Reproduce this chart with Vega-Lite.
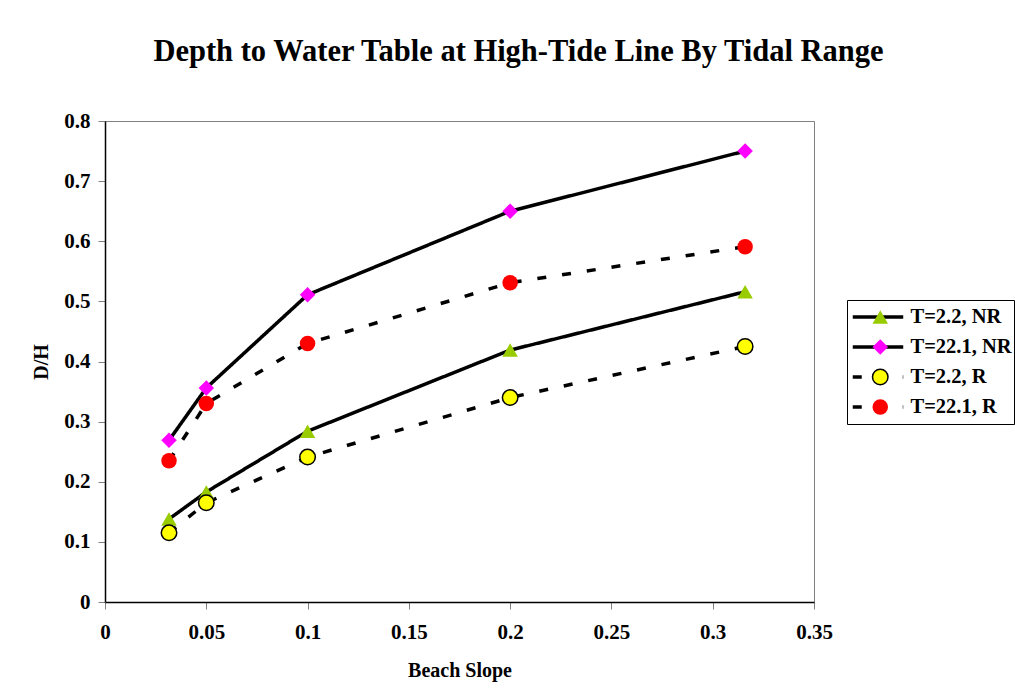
{
  "$schema": "https://vega.github.io/schema/vega-lite/v6.json",
  "autosize": {"type": "none"},
  "padding": {"left": 105, "top": 121, "right": 201, "bottom": 98},
  "width": 709,
  "height": 481,
  "background": "white",
  "title": {
    "text": "Depth to Water Table at High-Tide Line By Tidal Range",
    "font": "Liberation Serif",
    "fontSize": 30.5,
    "fontWeight": "bold",
    "color": "black",
    "anchor": "middle",
    "dx": 59,
    "offset": 43
  },
  "config": {
    "view": {"stroke": "#808080", "strokeWidth": 1},
    "axis": {
      "labelFont": "Liberation Serif",
      "labelFontWeight": "bold",
      "labelFontSize": 21,
      "labelColor": "black",
      "labelFlush": false,
      "titleFont": "Liberation Serif",
      "titleFontWeight": "bold",
      "titleFontSize": 20,
      "titleColor": "black",
      "domainColor": "black",
      "domainWidth": 1.5,
      "tickColor": "#808080",
      "tickSize": 7,
      "grid": false
    },
    "legend": {
      "labelFont": "Liberation Serif",
      "labelFontWeight": "bold",
      "labelFontSize": 20.5,
      "labelColor": "black"
    }
  },
  "data": {
    "values": [
      {"series": "T=2.2, NR", "slope": 0.0316, "dh": 0.138},
      {"series": "T=2.2, NR", "slope": 0.05, "dh": 0.183},
      {"series": "T=2.2, NR", "slope": 0.1, "dh": 0.284},
      {"series": "T=2.2, NR", "slope": 0.2, "dh": 0.419},
      {"series": "T=2.2, NR", "slope": 0.316, "dh": 0.516},
      {"series": "T=22.1, NR", "slope": 0.0316, "dh": 0.269},
      {"series": "T=22.1, NR", "slope": 0.05, "dh": 0.356},
      {"series": "T=22.1, NR", "slope": 0.1, "dh": 0.511},
      {"series": "T=22.1, NR", "slope": 0.2, "dh": 0.65},
      {"series": "T=22.1, NR", "slope": 0.316, "dh": 0.75},
      {"series": "T=2.2, R", "slope": 0.0316, "dh": 0.115},
      {"series": "T=2.2, R", "slope": 0.05, "dh": 0.165},
      {"series": "T=2.2, R", "slope": 0.1, "dh": 0.241},
      {"series": "T=2.2, R", "slope": 0.2, "dh": 0.34},
      {"series": "T=2.2, R", "slope": 0.316, "dh": 0.425},
      {"series": "T=22.1, R", "slope": 0.0316, "dh": 0.235},
      {"series": "T=22.1, R", "slope": 0.05, "dh": 0.33},
      {"series": "T=22.1, R", "slope": 0.1, "dh": 0.43},
      {"series": "T=22.1, R", "slope": 0.2, "dh": 0.531},
      {"series": "T=22.1, R", "slope": 0.316, "dh": 0.591}
    ]
  },
  "encoding": {
    "x": {
      "field": "slope",
      "type": "quantitative",
      "title": "Beach Slope",
      "scale": {"domain": [0, 0.35], "nice": false},
      "axis": {
        "values": [0, 0.05, 0.1, 0.15, 0.2, 0.25, 0.3, 0.35],
        "format": "~g",
        "labelPadding": 12,
        "titlePadding": 18
      }
    },
    "y": {
      "field": "dh",
      "type": "quantitative",
      "title": "D/H",
      "scale": {"domain": [0, 0.8], "nice": false},
      "axis": {
        "values": [0, 0.1, 0.2, 0.3, 0.4, 0.5, 0.6, 0.7, 0.8],
        "format": "~g",
        "labelPadding": 8,
        "titlePadding": 12
      }
    }
  },
  "layer": [
    {
      "mark": {"type": "line", "color": "black", "strokeWidth": 3.5},
      "encoding": {
        "detail": {"field": "series"},
        "strokeDash": {
          "field": "series",
          "type": "nominal",
          "scale": {
            "domain": ["T=22.1, R", "T=2.2, R", "T=22.1, NR", "T=2.2, NR"],
            "range": [[9, 16], [9, 16], [1, 0], [1, 0]]
          },
          "legend": {
            "title": null,
            "values": ["T=2.2, NR", "T=22.1, NR", "T=2.2, R", "T=22.1, R"],
            "orient": "none",
            "legendX": 742,
            "legendY": 179,
            "padding": 2,
            "symbolType": "stroke",
            "symbolSize": 2550,
            "symbolOffset": 2,
            "symbolStrokeWidth": 3.5,
            "symbolStrokeColor": "black",
            "labelExpr": "''",
            "labelOffset": 5,
            "clipHeight": 30,
            "rowPadding": 0,
            "zindex": 1
          }
        }
      }
    },
    {
      "mark": {"type": "point", "filled": true, "opacity": 1, "strokeWidth": 1.5, "size": 240},
      "encoding": {
        "shape": {
          "field": "series",
          "type": "nominal",
          "scale": {
            "domain": ["T=2.2, NR", "T=22.1, NR", "T=2.2, R", "T=22.1, R"],
            "range": ["triangle-up", "diamond", "circle", "circle"]
          },
          "legend": {
            "title": null,
            "orient": "none",
            "legendX": 742,
            "legendY": 179,
            "padding": 2,
            "symbolSize": 240,
            "symbolOffset": 21,
            "labelOffset": 20,
            "clipHeight": 30,
            "rowPadding": 0,
            "strokeColor": "black",
            "zindex": 2
          }
        },
        "fill": {
          "field": "series",
          "type": "nominal",
          "scale": {
            "domain": ["T=2.2, NR", "T=22.1, NR", "T=2.2, R", "T=22.1, R"],
            "range": ["#99CC00", "#FF00FF", "#FFFF00", "#FF0000"]
          },
          "legend": {
            "title": null,
            "orient": "none",
            "legendX": 742,
            "legendY": 179,
            "padding": 2,
            "symbolSize": 240,
            "symbolOffset": 21,
            "labelOffset": 20,
            "clipHeight": 30,
            "rowPadding": 0,
            "strokeColor": "black",
            "zindex": 2
          }
        },
        "stroke": {
          "field": "series",
          "type": "nominal",
          "scale": {
            "domain": ["T=2.2, NR", "T=22.1, NR", "T=2.2, R", "T=22.1, R"],
            "range": ["transparent", "transparent", "#000000", "transparent"]
          },
          "legend": {
            "title": null,
            "orient": "none",
            "legendX": 742,
            "legendY": 179,
            "padding": 2,
            "symbolSize": 240,
            "symbolOffset": 21,
            "labelOffset": 20,
            "clipHeight": 30,
            "rowPadding": 0,
            "strokeColor": "black",
            "zindex": 2
          }
        }
      }
    }
  ]
}
